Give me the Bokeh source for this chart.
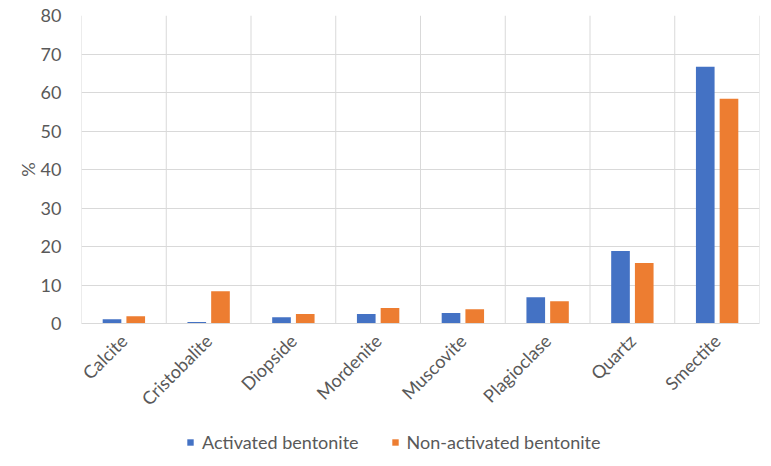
import math
from bokeh.plotting import figure
from bokeh.layouts import column
from bokeh.models import ColumnDataSource, Legend, LegendItem, FactorRange
from bokeh.transform import dodge
from bokeh.embed import file_html
from bokeh.resources import INLINE

categories = ["Calcite", "Cristobalite", "Diopside", "Mordenite", "Muscovite",
              "Plagioclase", "Quartz", "Smectite"]
activated = [1.1, 0.4, 1.6, 2.5, 2.7, 6.8, 18.8, 66.7]
non_activated = [1.9, 8.4, 2.5, 4.0, 3.7, 5.8, 15.7, 58.4]
series_names = ["Activated bentonite", "Non-activated bentonite"]
y_ticks = [0, 10, 20, 30, 40, 50, 60, 70, 80]

BLUE = "#4472C4"
ORANGE = "#ED7D31"
GRID = "#D9D9D9"
TEXT = "#595959"
FONT = "Lato"

src = ColumnDataSource(dict(cat=categories, a=activated, n=non_activated,
                            y0=[0] * len(categories), y1=[80] * len(categories)))

p = figure(x_range=FactorRange(*categories, range_padding=0), y_range=(0, 80),
           width=771, height=425,
           min_border_left=81, min_border_right=12, min_border_top=15, min_border_bottom=102,
           output_backend="svg", toolbar_location=None, tools="")

p.vbar(x=dodge("cat", -0.14, range=p.x_range), top="a", width=0.22, source=src,
       fill_color=BLUE, line_color=None)
p.vbar(x=dodge("cat", 0.14, range=p.x_range), top="n", width=0.22, source=src,
       fill_color=ORANGE, line_color=None)

# vertical separators at category boundaries
p.segment(x0=dodge("cat", -0.5, range=p.x_range), x1=dodge("cat", -0.5, range=p.x_range),
          y0="y0", y1="y1", source=src, line_color=GRID, line_width=1, level="underlay")
last = ColumnDataSource(dict(cat=[categories[-1]], y0=[0], y1=[80]))
p.segment(x0=dodge("cat", 0.5, range=p.x_range), x1=dodge("cat", 0.5, range=p.x_range),
          y0="y0", y1="y1", source=last, line_color=GRID, line_width=1, level="underlay")

p.outline_line_color = None
p.xgrid.grid_line_color = None
p.ygrid.grid_line_color = GRID
p.ygrid.ticker = y_ticks

p.yaxis.ticker = y_ticks
p.yaxis.axis_line_color = None
p.yaxis.major_tick_line_color = None
p.yaxis.minor_tick_line_color = None
p.yaxis.major_label_standoff = 14
p.yaxis.major_label_text_font = FONT
p.yaxis.major_label_text_font_size = "18px"
p.yaxis.major_label_text_color = TEXT
p.yaxis.axis_label = "%"
p.yaxis.axis_label_text_font = FONT
p.yaxis.axis_label_text_font_size = "18px"
p.yaxis.axis_label_text_font_style = "normal"
p.yaxis.axis_label_text_color = TEXT
p.yaxis.axis_label_standoff = -1

p.xaxis.axis_line_color = GRID
p.xaxis.major_tick_line_color = None
p.xaxis.minor_tick_line_color = None
p.xaxis.major_label_orientation = math.pi / 4
p.xaxis.major_label_standoff = 8
p.xaxis.major_label_text_font = FONT
p.xaxis.major_label_text_font_size = "18px"
p.xaxis.major_label_text_color = TEXT

# legend strip below the chart (swatch renderers sit outside its visible range)
lg = figure(width=771, height=34, x_range=(0, 1), y_range=(0, 1),
            x_axis_location=None, y_axis_location=None,
            min_border=0, output_backend="svg", toolbar_location=None, tools="")
lg.outline_line_color = None
lg.grid.visible = False
swatch = ColumnDataSource(dict(x=[-10], top=[-10]))
g1 = lg.vbar(x="x", top="top", bottom=-11, width=0.5, source=swatch,
             fill_color=BLUE, line_color=None)
g2 = lg.vbar(x="x", top="top", bottom=-11, width=0.5, source=swatch,
             fill_color=ORANGE, line_color=None)
legend = Legend(items=[LegendItem(label=series_names[0], renderers=[g1]),
                       LegendItem(label=series_names[1], renderers=[g2])],
                orientation="horizontal", location=(105, 6),
                label_text_font=FONT, label_text_font_size="18px", label_text_color=TEXT,
                glyph_width=8, glyph_height=8, label_standoff=8, spacing=32,
                padding=0, margin=0, border_line_color=None, background_fill_alpha=0)
lg.add_layout(legend, "center")

layout = column(p, lg, spacing=0)
open("out.html", "w").write(file_html(layout, INLINE))
